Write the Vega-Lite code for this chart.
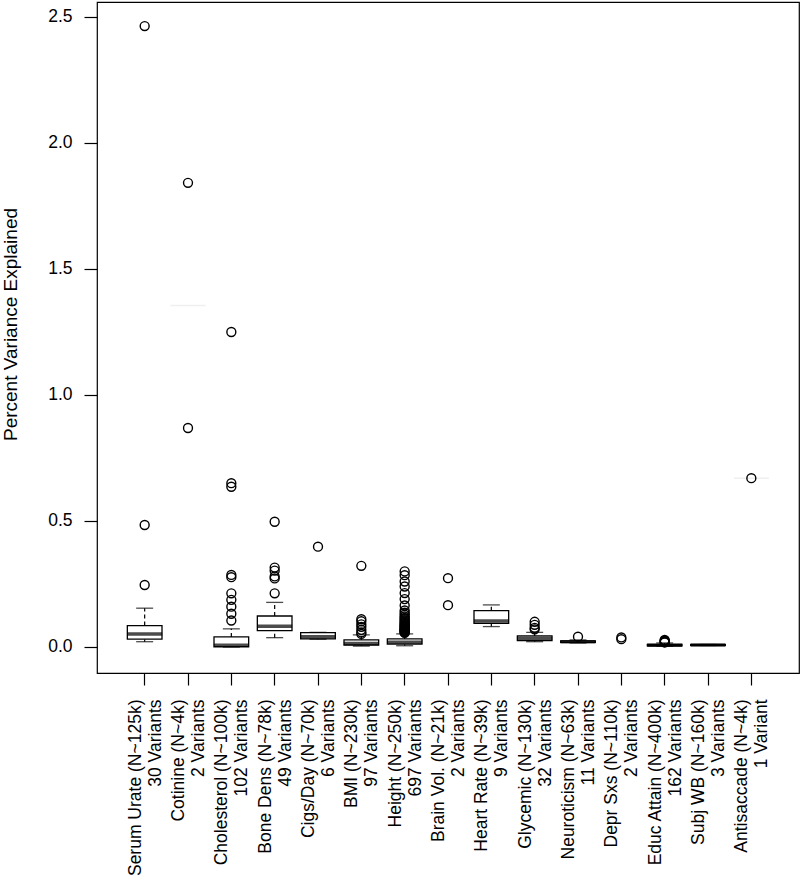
{
  "$schema": "https://vega.github.io/schema/vega-lite/v6.json",
  "width": 702,
  "height": 671,
  "autosize": "none",
  "padding": {"left": 97, "top": 2, "right": 1, "bottom": 208},
  "background": "white",
  "config": {
    "view": {"stroke": "black", "strokeWidth": 1.2},
    "font": "Liberation Sans",
    "axis": {"labelColor": "black", "tickColor": "black", "titleColor": "black", "grid": false, "domain": false, "labelFont": "Liberation Sans", "titleFont": "Liberation Sans"}
  },
  "datasets": {
    "stats": [
      {"g": "Serum Urate (N~125k)|30 Variants", "wl": 0.021, "q1": 0.031, "med": 0.052, "q3": 0.085, "wh": 0.154},
      {"g": "Cholesterol (N~100k)|102 Variants", "wl": 0.0, "q1": 0.001, "med": 0.007, "q3": 0.04, "wh": 0.072},
      {"g": "Bone Dens (N~78k)|49 Variants", "wl": 0.037, "q1": 0.065, "med": 0.082, "q3": 0.123, "wh": 0.177},
      {"g": "Cigs/Day (N~70k)|6 Variants", "wl": 0.031, "q1": 0.032, "med": 0.041, "q3": 0.057, "wh": 0.058},
      {"g": "BMI (N~230k)|97 Variants", "wl": 0.004, "q1": 0.008, "med": 0.014, "q3": 0.028, "wh": 0.048},
      {"g": "Height (N~250k)|697 Variants", "wl": 0.005, "q1": 0.011, "med": 0.019, "q3": 0.032, "wh": 0.052},
      {"g": "Heart Rate (N~39k)|9 Variants", "wl": 0.081, "q1": 0.094, "med": 0.103, "q3": 0.144, "wh": 0.167},
      {"g": "Glycemic (N~130k)|32 Variants", "wl": 0.021, "q1": 0.025, "med": 0.035, "q3": 0.044, "wh": 0.058},
      {"g": "Neuroticism (N~63k)|11 Variants", "wl": 0.016, "q1": 0.018, "med": 0.021, "q3": 0.024, "wh": 0.028},
      {"g": "Educ Attain (N~400k)|162 Variants", "wl": 0.003, "q1": 0.005, "med": 0.007, "q3": 0.010, "wh": 0.016},
      {"g": "Subj WB (N~160k)|3 Variants", "wl": 0.006, "q1": 0.007, "med": 0.008, "q3": 0.009, "wh": 0.010}
    ],
    "points": [
      {"g": "Serum Urate (N~125k)|30 Variants", "v": 2.464},
      {"g": "Serum Urate (N~125k)|30 Variants", "v": 0.484},
      {"g": "Serum Urate (N~125k)|30 Variants", "v": 0.246},
      {"g": "Cotinine (N~4k)|2 Variants", "v": 1.842},
      {"g": "Cotinine (N~4k)|2 Variants", "v": 0.869},
      {"g": "Cholesterol (N~100k)|102 Variants", "v": 1.25},
      {"g": "Cholesterol (N~100k)|102 Variants", "v": 0.65},
      {"g": "Cholesterol (N~100k)|102 Variants", "v": 0.636},
      {"g": "Cholesterol (N~100k)|102 Variants", "v": 0.286},
      {"g": "Cholesterol (N~100k)|102 Variants", "v": 0.277},
      {"g": "Cholesterol (N~100k)|102 Variants", "v": 0.213},
      {"g": "Cholesterol (N~100k)|102 Variants", "v": 0.187},
      {"g": "Cholesterol (N~100k)|102 Variants", "v": 0.16},
      {"g": "Cholesterol (N~100k)|102 Variants", "v": 0.132},
      {"g": "Cholesterol (N~100k)|102 Variants", "v": 0.105},
      {"g": "Bone Dens (N~78k)|49 Variants", "v": 0.497},
      {"g": "Bone Dens (N~78k)|49 Variants", "v": 0.315},
      {"g": "Bone Dens (N~78k)|49 Variants", "v": 0.303},
      {"g": "Bone Dens (N~78k)|49 Variants", "v": 0.28},
      {"g": "Bone Dens (N~78k)|49 Variants", "v": 0.272},
      {"g": "Bone Dens (N~78k)|49 Variants", "v": 0.213},
      {"g": "Cigs/Day (N~70k)|6 Variants", "v": 0.398},
      {"g": "BMI (N~230k)|97 Variants", "v": 0.322},
      {"g": "BMI (N~230k)|97 Variants", "v": 0.11},
      {"g": "BMI (N~230k)|97 Variants", "v": 0.102},
      {"g": "BMI (N~230k)|97 Variants", "v": 0.09},
      {"g": "BMI (N~230k)|97 Variants", "v": 0.08},
      {"g": "BMI (N~230k)|97 Variants", "v": 0.068},
      {"g": "BMI (N~230k)|97 Variants", "v": 0.058},
      {"g": "BMI (N~230k)|97 Variants", "v": 0.052},
      {"g": "Height (N~250k)|697 Variants", "v": 0.30},
      {"g": "Height (N~250k)|697 Variants", "v": 0.285},
      {"g": "Height (N~250k)|697 Variants", "v": 0.26},
      {"g": "Height (N~250k)|697 Variants", "v": 0.24},
      {"g": "Height (N~250k)|697 Variants", "v": 0.214},
      {"g": "Height (N~250k)|697 Variants", "v": 0.19},
      {"g": "Height (N~250k)|697 Variants", "v": 0.165},
      {"g": "Height (N~250k)|697 Variants", "v": 0.145},
      {"g": "Height (N~250k)|697 Variants", "v": 0.136},
      {"g": "Height (N~250k)|697 Variants", "v": 0.128},
      {"g": "Height (N~250k)|697 Variants", "v": 0.121},
      {"g": "Height (N~250k)|697 Variants", "v": 0.115},
      {"g": "Height (N~250k)|697 Variants", "v": 0.11},
      {"g": "Height (N~250k)|697 Variants", "v": 0.105},
      {"g": "Height (N~250k)|697 Variants", "v": 0.1},
      {"g": "Height (N~250k)|697 Variants", "v": 0.096},
      {"g": "Height (N~250k)|697 Variants", "v": 0.092},
      {"g": "Height (N~250k)|697 Variants", "v": 0.088},
      {"g": "Height (N~250k)|697 Variants", "v": 0.085},
      {"g": "Height (N~250k)|697 Variants", "v": 0.082},
      {"g": "Height (N~250k)|697 Variants", "v": 0.079},
      {"g": "Height (N~250k)|697 Variants", "v": 0.076},
      {"g": "Height (N~250k)|697 Variants", "v": 0.073},
      {"g": "Height (N~250k)|697 Variants", "v": 0.07},
      {"g": "Height (N~250k)|697 Variants", "v": 0.068},
      {"g": "Height (N~250k)|697 Variants", "v": 0.066},
      {"g": "Height (N~250k)|697 Variants", "v": 0.064},
      {"g": "Height (N~250k)|697 Variants", "v": 0.062},
      {"g": "Height (N~250k)|697 Variants", "v": 0.06},
      {"g": "Height (N~250k)|697 Variants", "v": 0.058},
      {"g": "Height (N~250k)|697 Variants", "v": 0.056},
      {"g": "Brain Vol. (N~21k)|2 Variants", "v": 0.273},
      {"g": "Brain Vol. (N~21k)|2 Variants", "v": 0.166},
      {"g": "Glycemic (N~130k)|32 Variants", "v": 0.1},
      {"g": "Glycemic (N~130k)|32 Variants", "v": 0.088},
      {"g": "Glycemic (N~130k)|32 Variants", "v": 0.076},
      {"g": "Glycemic (N~130k)|32 Variants", "v": 0.07},
      {"g": "Neuroticism (N~63k)|11 Variants", "v": 0.041},
      {"g": "Depr Sxs (N~110k)|2 Variants", "v": 0.038},
      {"g": "Depr Sxs (N~110k)|2 Variants", "v": 0.031},
      {"g": "Educ Attain (N~400k)|162 Variants", "v": 0.028},
      {"g": "Educ Attain (N~400k)|162 Variants", "v": 0.025},
      {"g": "Educ Attain (N~400k)|162 Variants", "v": 0.022},
      {"g": "Educ Attain (N~400k)|162 Variants", "v": 0.02},
      {"g": "Educ Attain (N~400k)|162 Variants", "v": 0.018},
      {"g": "Antisaccade (N~4k)|1 Variant", "v": 0.67}
    ],
    "faint": [
      {"g": "Cotinine (N~4k)|2 Variants", "v": 1.355},
      {"g": "Antisaccade (N~4k)|1 Variant", "v": 0.67}
    ]
  },
  "encoding": {
    "x": {
      "field": "g",
      "type": "nominal",
      "scale": {
        "domain": [
          "Serum Urate (N~125k)|30 Variants",
          "Cotinine (N~4k)|2 Variants",
          "Cholesterol (N~100k)|102 Variants",
          "Bone Dens (N~78k)|49 Variants",
          "Cigs/Day (N~70k)|6 Variants",
          "BMI (N~230k)|97 Variants",
          "Height (N~250k)|697 Variants",
          "Brain Vol. (N~21k)|2 Variants",
          "Heart Rate (N~39k)|9 Variants",
          "Glycemic (N~130k)|32 Variants",
          "Neuroticism (N~63k)|11 Variants",
          "Depr Sxs (N~110k)|2 Variants",
          "Educ Attain (N~400k)|162 Variants",
          "Subj WB (N~160k)|3 Variants",
          "Antisaccade (N~4k)|1 Variant"
        ],
        "paddingInner": 0,
        "paddingOuter": 0.6
      },
      "axis": {
        "title": null,
        "labelExpr": "split(datum.value, '|')",
        "labelAngle": -90,
        "labelAlign": "right",
        "labelBaseline": "middle",
        "labelLineHeight": 20,
        "labelFontSize": 17.5,
        "labelPadding": 14,
        "labelOffset": -9,
        "labelLimit": 400,
        "labelOverlap": false,
        "tickSize": 12,
        "tickWidth": 1.2
      }
    }
  },
  "layer": [
    {
      "data": {"name": "stats"},
      "mark": {"type": "rule", "color": "black", "strokeWidth": 1.2, "strokeDash": [4, 3]},
      "encoding": {
        "y": {
          "field": "q3",
          "type": "quantitative",
          "scale": {"domain": [-0.1032, 2.5595], "nice": false, "zero": false},
          "axis": {
            "title": "Percent Variance Explained",
            "values": [0, 0.5, 1, 1.5, 2, 2.5],
            "format": ".1f",
            "labelFontSize": 17.5,
            "labelPadding": 12,
            "tickSize": 13,
            "tickWidth": 1.2,
            "titleFontSize": 19,
            "titleFontWeight": "normal",
            "titleX": -87,
            "titleY": 322,
            "titleAlign": "center",
            "titleBaseline": "middle",
            "titleAngle": -90
          }
        },
        "y2": {"field": "wh"}
      }
    },
    {
      "data": {"name": "stats"},
      "mark": {"type": "rule", "color": "black", "strokeWidth": 1.2, "strokeDash": [4, 3]},
      "encoding": {
        "y": {"field": "wl", "type": "quantitative"},
        "y2": {"field": "q1"}
      }
    },
    {
      "data": {"name": "stats"},
      "mark": {"type": "bar", "fill": "white", "stroke": "black", "strokeWidth": 1.3, "width": {"band": 0.8}},
      "encoding": {
        "y": {"field": "q1", "type": "quantitative"},
        "y2": {"field": "q3"}
      }
    },
    {
      "data": {"name": "stats"},
      "mark": {"type": "tick", "color": "black", "size": 35, "thickness": 3.5},
      "encoding": {
        "y": {"field": "med", "type": "quantitative"}
      }
    },
    {
      "data": {"name": "stats"},
      "mark": {"type": "tick", "color": "black", "size": 17, "thickness": 1.3},
      "encoding": {
        "y": {"field": "wh", "type": "quantitative"}
      }
    },
    {
      "data": {"name": "stats"},
      "mark": {"type": "tick", "color": "black", "size": 17, "thickness": 1.3},
      "encoding": {
        "y": {"field": "wl", "type": "quantitative"}
      }
    },
    {
      "data": {"name": "faint"},
      "mark": {"type": "tick", "color": "#e8e8e8", "size": 35, "thickness": 1.5},
      "encoding": {
        "y": {"field": "v", "type": "quantitative"}
      }
    },
    {
      "data": {"name": "points"},
      "mark": {"type": "point", "shape": "circle", "filled": false, "color": "black", "size": 80, "strokeWidth": 1.4, "opacity": 1},
      "encoding": {
        "y": {"field": "v", "type": "quantitative"}
      }
    }
  ]
}
